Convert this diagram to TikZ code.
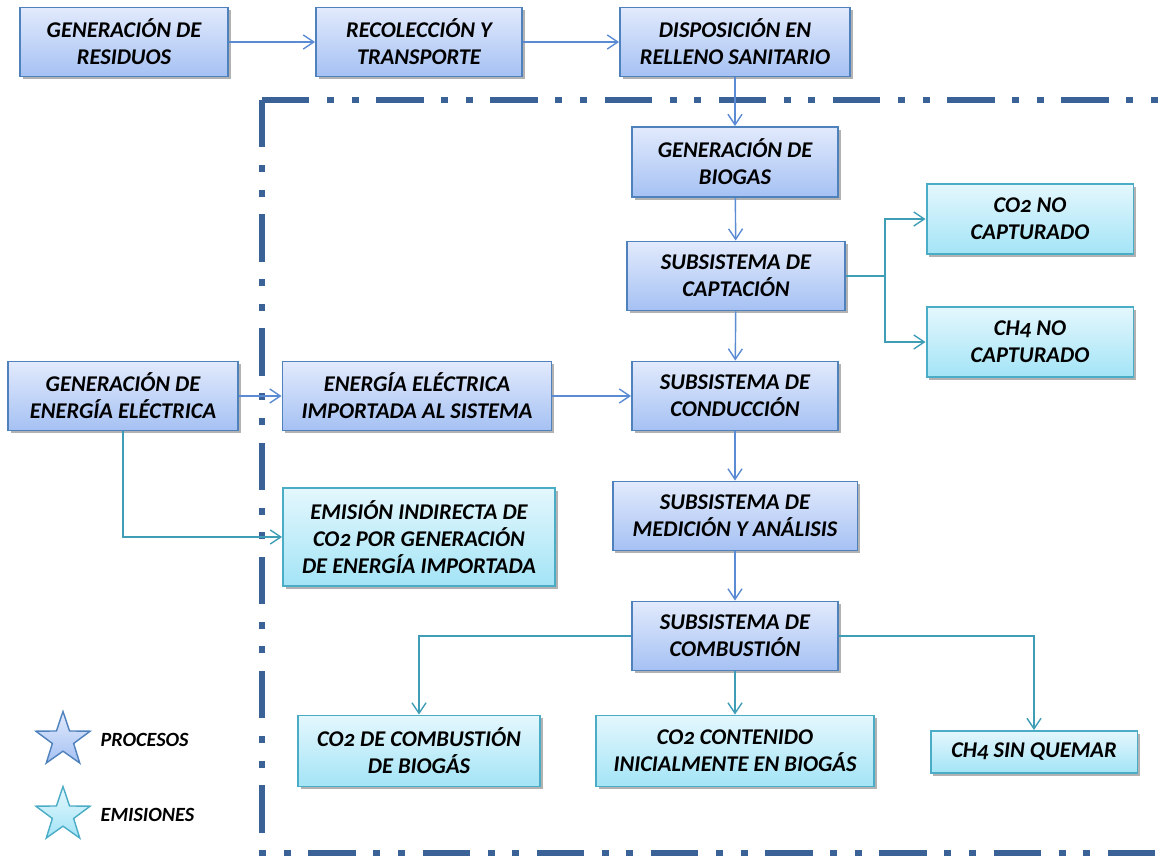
\documentclass[tikz,border=0pt]{standalone}
\usepackage{fontspec}
\setmainfont{Carlito}
\usetikzlibrary{arrows.meta,calc,positioning,shapes.geometric,shadows}

\definecolor{procborder}{HTML}{4F81BD}
\definecolor{proctop}{HTML}{E2EAFC}
\definecolor{procbot}{HTML}{A5C1F3}
\definecolor{emiborder}{HTML}{4BACC6}
\definecolor{emitop}{HTML}{E4F7FD}
\definecolor{emibot}{HTML}{A3E4F6}
\definecolor{framecol}{HTML}{3A6297}
\definecolor{procline}{HTML}{5B8BD3}
\definecolor{emiline}{HTML}{3F9DB6}

\newcommand{\osf}[1]{{\addfontfeatures{Numbers=OldStyle}#1}}

\begin{document}
\begin{tikzpicture}[
  x=0.02cm, y=-0.02cm,
  > = {Straight Barb[length=6pt,width=8pt]},
  every node/.style = {font=\fontsize{12.8}{15.3}\selectfont\bfseries\itshape, align=center},
  boxshadow/.style = {drop shadow={shadow xshift=1.5pt,shadow yshift=-1.5pt,opacity=0.3,fill=black}},
  proc/.style = {draw=procborder, line width=1.1pt, top color=proctop, bottom color=procbot,
                 minimum height=1.38cm, inner sep=2pt, boxshadow},
  emi/.style = {draw=emiborder, line width=1.1pt, top color=emitop, bottom color=emibot,
                minimum height=1.4cm, inner sep=2pt, boxshadow},
  procarrow/.style = {->, draw=procline, line width=0.8pt},
  emiarrow/.style = {->, draw=emiline, line width=0.8pt},
  frameline/.style = {draw=framecol, line width=3.4pt,
                      dash pattern=on 27pt off 10pt on 4pt off 10pt on 4pt off 10pt},
  legendstar/.style = {star, star points=5, star point ratio=2.55, minimum size=1.14cm,
                       inner sep=0pt, line width=0.8pt},
  legendtext/.style = {font=\fontsize{11.5}{14}\selectfont\bfseries\itshape}
  ]
	\useasboundingbox (0,0) rectangle (1172,855);

	% system boundary
	\draw[frameline] (262,100) -- (1220,100);
	\draw[frameline] (262,100) -- (262,853) -- (1220,853);

	% processes
	\node[proc, minimum width=4.16cm] (res) at (124,42) {GENERACIÓN DE\\RESIDUOS};
	\node[proc, minimum width=4.12cm] (rec) at (419,42) {RECOLECCIÓN Y\\TRANSPORTE};
	\node[proc, minimum width=4.6cm] (disp) at (735,42) {DISPOSICIÓN EN\\RELLENO SANITARIO};
	\node[proc, minimum width=4.12cm, minimum height=1.4cm] (bio) at (735,162) {GENERACIÓN DE\\BIOGAS};
	\node[proc, minimum width=4.36cm] (capt) at (736,276) {SUBSISTEMA DE\\CAPTACIÓN};
	\node[proc, minimum width=4.6cm] (gen) at (123,396) {GENERACIÓN DE\\ENERGÍA ELÉCTRICA};
	\node[proc, minimum width=5.38cm] (imp) at (417,396) {ENERGÍA ELÉCTRICA\\IMPORTADA AL SISTEMA};
	\node[proc, minimum width=4.12cm] (cond) at (735,396) {SUBSISTEMA DE\\CONDUCCIÓN};
	\node[proc, minimum width=4.9cm] (med) at (735,516) {SUBSISTEMA DE\\MEDICIÓN Y ANÁLISIS};
	\node[proc, minimum width=4.12cm] (comb) at (735,636) {SUBSISTEMA DE\\COMBUSTIÓN};

	% emissions
	\node[emi, minimum width=4.14cm] (co2nc) at (1030,219) {CO\osf{2} NO\\CAPTURADO};
	\node[emi, minimum width=4.14cm] (ch4nc) at (1030,342) {CH\osf{4} NO\\CAPTURADO};
	\node[emi, minimum width=5.44cm, minimum height=1.96cm] (indir) at (419,537)
		{EMISIÓN INDIRECTA DE\\CO\osf{2} POR GENERACIÓN\\DE ENERGÍA IMPORTADA};
	\node[emi, minimum width=4.84cm, minimum height=1.42cm] (co2comb) at (419,751) {CO\osf{2} DE COMBUSTIÓN\\DE BIOGÁS};
	\node[emi, minimum width=5.56cm, minimum height=1.42cm] (co2cont) at (735,751) {CO\osf{2} CONTENIDO\\INICIALMENTE EN BIOGÁS};
	\node[emi, minimum width=4.14cm, minimum height=0.84cm] (ch4sq) at (1034,752) {CH\osf{4} SIN QUEMAR};

	% process flow
	\draw[procarrow] (res) -- (rec);
	\draw[procarrow] (rec) -- (disp);
	\draw[procarrow] (disp) -- (bio);
	\draw[procarrow] (bio) -- (capt);
	\draw[procarrow] (capt) -- (cond);
	\draw[procarrow] (gen) -- (imp);
	\draw[procarrow] (imp) -- (cond);
	\draw[procarrow] (cond) -- (med);
	\draw[procarrow] (med) -- (comb);

	% emission flow
	\coordinate (split) at (885,276);
	\draw[emiline, line width=0.8pt] (capt.east) -- (split);
	\draw[emiarrow] (split) |- (co2nc.west);
	\draw[emiarrow] (split) |- (ch4nc.west);
	\draw[emiarrow] (gen.south) |- (indir.west);
	\draw[emiarrow] (comb.west) -| (co2comb.north);
	\draw[emiarrow] (comb) -- (co2cont);
	\draw[emiarrow] (comb.east) -| (ch4sq.north);

	% legend
	\node[legendstar, draw=procborder, top color=proctop, bottom color=procbot] (sproc) at (63,740) {};
	\node[legendtext, right=0.3cm of sproc] (lproc) {PROCESOS};
	\node[legendstar, draw=emiborder, top color=emitop, bottom color=emibot] (semi) at (63,815) {};
	\node[legendtext, right=0.3cm of semi] (lemi) {EMISIONES};

\end{tikzpicture}
\end{document}
